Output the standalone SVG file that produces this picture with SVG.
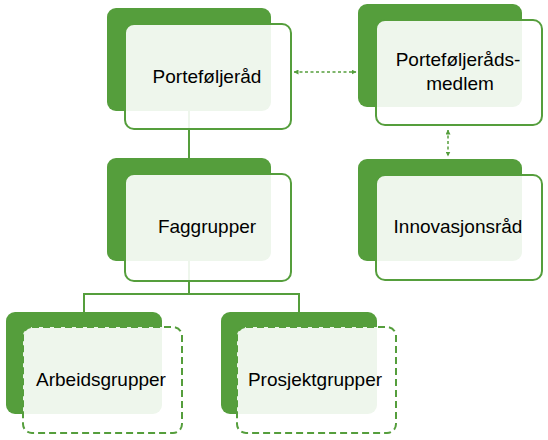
<svg xmlns="http://www.w3.org/2000/svg" width="548" height="440" viewBox="0 0 548 440">
<style>
.back{fill:#559E3C;}
.front{fill:#ffffff;fill-opacity:0.9;stroke:#559E3C;stroke-width:2;}
.dash{stroke-dasharray:7 4;}
.lbl{font-family:"Liberation Sans",Arial,sans-serif;font-size:19px;fill:#000;text-anchor:middle;}
.conn{stroke:#559E3C;stroke-width:2;fill:none;}
.arr{stroke:#559E3C;stroke-width:1.5;fill:none;stroke-dasharray:3 2.5;}
</style>
<defs>
<marker id="ah" viewBox="0 0 10 10" refX="9" refY="5" markerWidth="5" markerHeight="5" orient="auto-start-reverse" markerUnits="userSpaceOnUse">
<path d="M0,0 L10,5 L0,10 Z" fill="#559E3C"/>
</marker>
</defs>
<g id="connectors">
<path class="conn" d="M189,111 V158"/>
<path class="conn" d="M189,261 V294 M84,312 V294 H299 V312"/>
<path class="arr" d="M294,72 H356" marker-start="url(#ah)" marker-end="url(#ah)"/>
<path class="arr" d="M448,130 V156" marker-start="url(#ah)" marker-end="url(#ah)"/>
</g>
<g id="portefoljerad">
<rect class="back" x="107" y="8" width="164" height="103" rx="9"/>
<rect class="front" x="125" y="24" width="166" height="105" rx="9"/>
<text class="lbl" x="207" y="83">Porteføljeråd</text>
</g>
<g id="medlem">
<rect class="back" x="358" y="4" width="164" height="103" rx="9"/>
<rect class="front" x="376" y="20" width="166" height="105" rx="9"/>
<text class="lbl" x="458" y="66">Porteføljeråds-</text>
<text class="lbl" x="460" y="90">medlem</text>
</g>
<g id="faggrupper">
<rect class="back" x="107" y="158" width="164" height="103" rx="9"/>
<rect class="front" x="125" y="174" width="166" height="107" rx="9"/>
<text class="lbl" x="207" y="233">Faggrupper</text>
</g>
<g id="innovasjonsrad">
<rect class="back" x="358" y="159" width="164" height="102" rx="9"/>
<rect class="front" x="376" y="175" width="166" height="105" rx="9"/>
<text class="lbl" x="458" y="233">Innovasjonsråd</text>
</g>
<g id="arbeidsgrupper">
<rect class="back" x="6" y="312" width="156" height="102" rx="9"/>
<rect class="front dash" x="23" y="327" width="159" height="106" rx="9"/>
<text class="lbl" x="101" y="386">Arbeidsgrupper</text>
</g>
<g id="prosjektgrupper">
<rect class="back" x="221" y="312" width="156" height="102" rx="9"/>
<rect class="front dash" x="237" y="327" width="159" height="106" rx="9"/>
<text class="lbl" x="315" y="386">Prosjektgrupper</text>
</g>
</svg>
